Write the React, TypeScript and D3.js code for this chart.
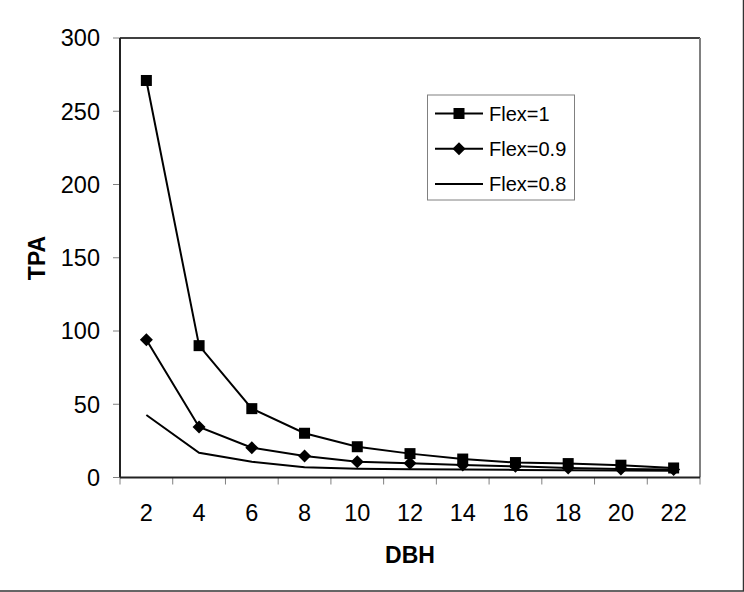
import React from "react";
import { scaleBand, scaleLinear, line } from "d3";

const DBH = [2, 4, 6, 8, 10, 12, 14, 16, 18, 20, 22];
const FLEX_1 = [271, 90, 47, 30.2, 21, 16.3, 12.6, 10.2, 9.5, 8.4, 6.5];
const FLEX_09 = [94, 34.5, 20.3, 14.6, 10.8, 9.7, 8.5, 7.6, 6.5, 5.8, 5.4];
const FLEX_08 = [42.7, 16.9, 10.8, 7, 6, 5.7, 5.4, 5.2, 5, 4.8, 4.6];
const Y_TICKS = [0, 50, 100, 150, 200, 250, 300];

const W = 744;
const H = 592;
const PLOT = { left: 120, top: 38, right: 700, bottom: 477.5 };
const FONT = "Liberation Sans, Arial, sans-serif";

type Series = { name: string; values: number[]; marker: "square" | "diamond" | "none" };

const SERIES: Series[] = [
  { name: "Flex=1", values: FLEX_1, marker: "square" },
  { name: "Flex=0.9", values: FLEX_09, marker: "diamond" },
  { name: "Flex=0.8", values: FLEX_08, marker: "none" },
];

function Marker({ kind, x, y }: { kind: Series["marker"]; x: number; y: number }) {
  if (kind === "square") return <rect x={x - 5.5} y={y - 5.5} width={11} height={11} fill="#000" />;
  if (kind === "diamond")
    return <path d={`M${x},${y - 6.5}L${x + 6.5},${y}L${x},${y + 6.5}L${x - 6.5},${y}Z`} fill="#000" />;
  return null;
}

export default function App() {
  const x = scaleBand<number>().domain(DBH).range([PLOT.left, PLOT.right]);
  const y = scaleLinear().domain([0, 300]).range([PLOT.bottom, PLOT.top]);
  const cx = (d: number) => (x(d) ?? 0) + x.bandwidth() / 2;

  const gen = (vals: number[]) =>
    line<number>()
      .x((_, i) => cx(DBH[i]))
      .y((v) => y(v))(vals) || "";

  const boundaries = [...DBH.map((d) => x(d) ?? 0), PLOT.right];

  return (
    <svg
      width={W}
      height={H}
      style={{ position: "absolute", left: 0, top: 0, background: "#fff" }}
      fontFamily={FONT}
    >
      {/* outer frame */}
      <rect x={-2} y={-2} width={745.5} height={593} fill="none" stroke="#333" strokeWidth={1.5} />

      {/* plot border */}
      <line x1={PLOT.left} y1={PLOT.top} x2={PLOT.right} y2={PLOT.top} stroke="#404040" strokeWidth={2} />
      <line x1={PLOT.right} y1={PLOT.top} x2={PLOT.right} y2={PLOT.bottom} stroke="#808080" strokeWidth={2} />

      {/* y axis */}
      {Y_TICKS.map((t) => (
        <g key={t}>
          <line x1={PLOT.left - 7} x2={PLOT.left} y1={y(t)} y2={y(t)} stroke="#808080" strokeWidth={1} />
          <text x={100} y={y(t)} dy="0.36em" textAnchor="end" fontSize={23.5} fill="#000">
            {t}
          </text>
        </g>
      ))}
      <line x1={PLOT.left} x2={PLOT.left} y1={PLOT.top} y2={PLOT.bottom} stroke="#222" strokeWidth={2} />

      {/* x axis */}
      {boundaries.map((b, i) => (
        <line key={i} x1={b} x2={b} y1={PLOT.bottom} y2={PLOT.bottom + 7} stroke="#808080" strokeWidth={1} />
      ))}
      {DBH.map((d) => (
        <text key={d} x={cx(d)} y={521} textAnchor="middle" fontSize={23.5} fill="#000">
          {d}
        </text>
      ))}
      <line x1={PLOT.left} x2={PLOT.right} y1={PLOT.bottom} y2={PLOT.bottom} stroke="#222" strokeWidth={2} />

      {/* axis titles */}
      <text x={410} y={563} textAnchor="middle" fontSize={23} fontWeight="bold">
        DBH
      </text>
      <text transform="translate(45,258) rotate(-90)" textAnchor="middle" fontSize={23} fontWeight="bold">
        TPA
      </text>

      {/* series */}
      {SERIES.map((s) => (
        <g key={s.name}>
          <path d={gen(s.values)} fill="none" stroke="#000" strokeWidth={2} />
          {s.values.map((v, i) => (
            <Marker key={i} kind={s.marker} x={cx(DBH[i])} y={y(v)} />
          ))}
        </g>
      ))}

      {/* legend */}
      <rect x={427.5} y={95} width={147} height={105} fill="#fff" stroke="#808080" strokeWidth={1} />
      {SERIES.map((s, i) => {
        const ly = 113.5 + i * 35.3;
        return (
          <g key={s.name}>
            <line x1={435} x2={483} y1={ly} y2={ly} stroke="#000" strokeWidth={2} />
            <Marker kind={s.marker} x={459} y={ly} />
            <text x={489} y={ly} dy="0.36em" fontSize={20} fill="#000">
              {s.name}
            </text>
          </g>
        );
      })}
    </svg>
  );
}
